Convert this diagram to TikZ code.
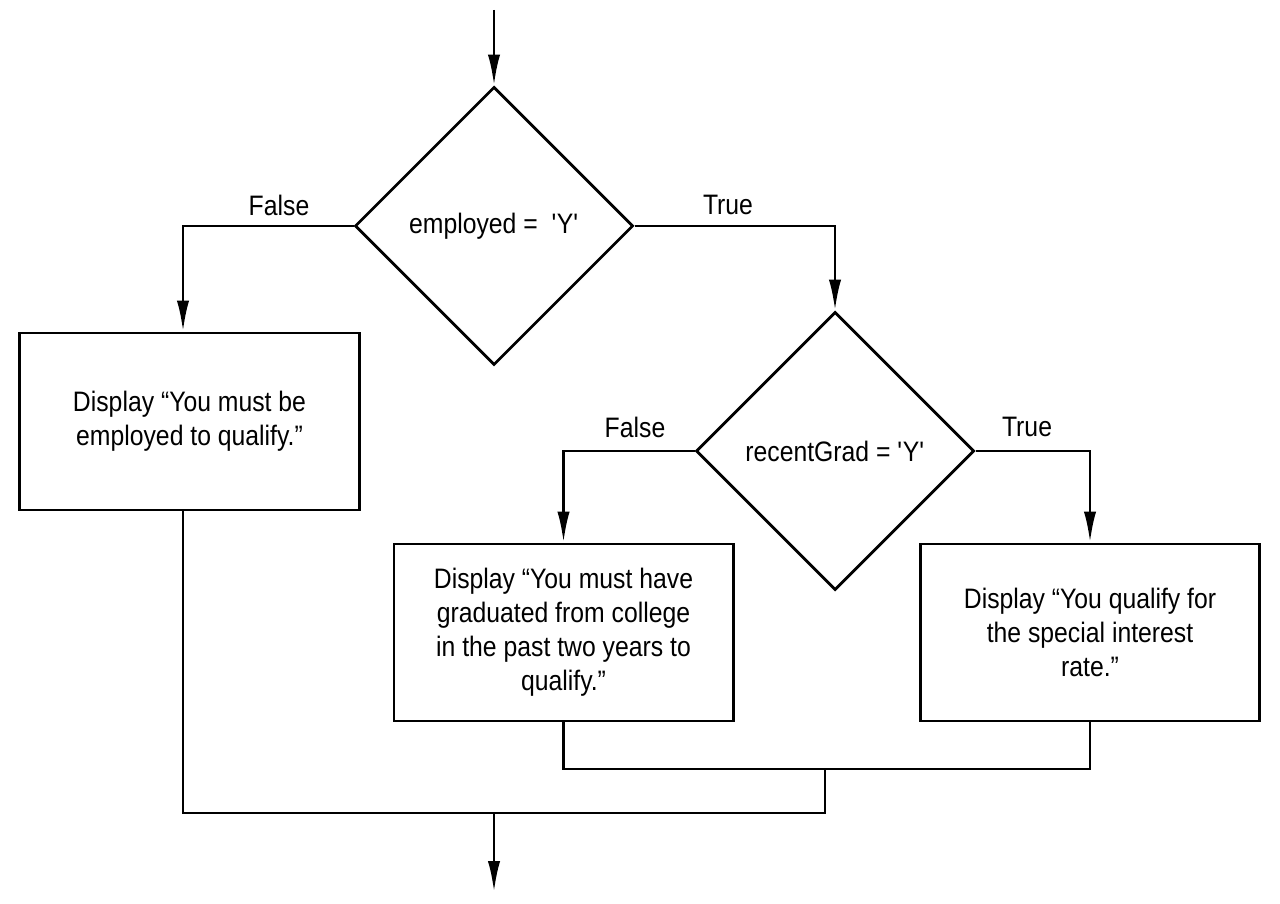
\documentclass[tikz,border=0pt]{standalone}
\usepackage{fontspec}
\setmainfont{Liberation Sans}[FakeStretch=0.88]
\usetikzlibrary{arrows.meta,shapes.geometric}

\begin{document}
\begin{tikzpicture}[x=0.01cm,y=-0.01cm,line width=0.8pt,
                    >={Latex[length=8.8pt,width=3.5pt]},
                    every node/.style={font=\fontsize{8}{9.65}\selectfont},
                    decision/.style={diamond,draw,minimum width=2.78cm,
                      minimum height=2.78cm,inner sep=0pt,align=center},
                    block/.style={rectangle,draw,minimum width=3.39cm,
                      minimum height=1.77cm,align=center},
                    branch/.style={inner sep=1pt}]
  \useasboundingbox (0,0) rectangle (1280,904);

  \coordinate (start) at (494,10);
  \node[decision] (emp)  at (494,226) {employed = \ \textquotesingle Y\textquotesingle};
  \node[decision] (grad) at (835,451) {recentGrad = \textquotesingle Y\textquotesingle};

  \node[block] (noJob)  at (189.5,421.5) {Display “You must be\\employed to qualify.”};
  \node[block] (noGrad) at (563.5,632.5) {Display “You must have\\graduated from college\\in the past two years to\\qualify.”};
  \node[block] (yes)    at (1090,632.5)  {Display “You qualify for\\the special interest\\rate.”};

  \node[branch] (empF)  at (279,205)  {False};
  \node[branch] (empT)  at (728,205)  {True};
  \node[branch] (gradF) at (635,427)  {False};
  \node[branch] (gradT) at (1027,427) {True};

  \coordinate (noTurn) at (183,226);
  \coordinate (join)   at (825,769);
  \coordinate (merge)  at (494,813);
  \coordinate (stop)   at (494,892);

  \draw[->] (start) -- (emp);
  \draw[->] (emp.west) -- (noTurn) -- (noTurn |- noJob.north);
  \draw[->] (emp.east) -| (grad.north);
  \draw[->] (grad.west) -| (noGrad.north);
  \draw[->] (grad.east) -| (yes.north);

  % joining the branches
  \draw (noGrad.south) |- (join) -| (yes.south);
  \draw (noJob.south -| noTurn) |- (merge) -| (join);
  \draw[->] (merge) -- (stop);
\end{tikzpicture}
\end{document}
